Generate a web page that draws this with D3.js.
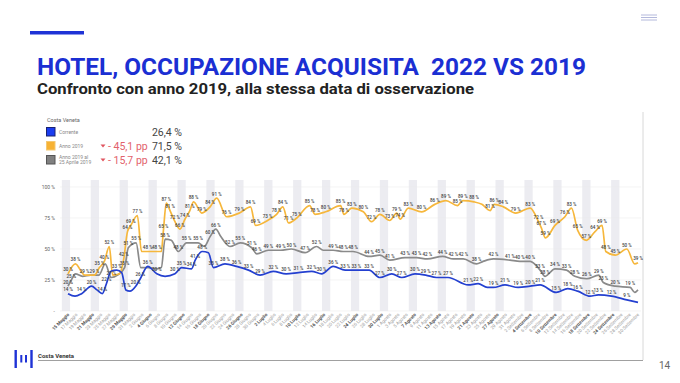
<!DOCTYPE html>
<html><head><meta charset="utf-8">
<script src="https://cdn.jsdelivr.net/npm/d3@7/dist/d3.min.js"></script>
<style>body{margin:0;background:#fff}svg{display:block}</style>
</head><body>
<svg id="c" width="680" height="383"></svg>
<script>
// ---------- DATA ----------
// day offset from 15 May 2022, value %, show label (1/0)
const corrente = [[0,14,1],[1.7,12,0],[3.3,14,1],[5.7,20,1],[7,17,0],[8.3,14,1],[9.3,22,1],[10.4,32,0],[11.8,33,1],[13,31,0],[14,17,1],[15,16,0],[16.4,20,1],[17.5,26,1],[19.3,36,1],[21.5,30,1],[23.5,28,0],[25.9,30,1],[27.5,35,1],[29.9,34,1],[30.8,41,1],[32.5,48,1],[34,47,0],[35.2,35,1],[38,38,1],[40.8,36,1],[43.7,33,1],[46.5,29,1],[49.7,32,1],[52.8,30,1],[55.8,31,1],[59,32,1],[61.4,30,1],[64.2,36,1],[67.1,33,1],[69.8,33,1],[72.9,33,1],[75.5,27,1],[78.4,30,1],[80.8,27,1],[84,30,1],[86.6,29,1],[89.2,27,1],[92,27,1],[96.9,21,1],[99.3,22,1],[101.5,19,0],[103,19,1],[105.8,21,1],[109,19,1],[111.9,20,1],[114.3,21,1],[118.2,15,1],[121,18,1],[123.4,16,1],[126.4,12,1],[128.4,13,1],[131.6,12,1],[135.3,9,1],[138,7,0]];
const anno2019 = [[0,30,1],[1.8,38,1],[4,29,1],[6.4,29,1],[7.6,35,1],[8.8,40,1],[10,52,1],[10.8,29,0],[12.5,30,0],[13.5,42,1],[14.4,64,1],[15.2,69,1],[16.8,77,1],[17.8,48,0],[19.3,48,1],[21.5,48,1],[22.6,48,0],[23.1,65,1],[23.8,87,1],[24.7,81,1],[25.9,72,1],[27.1,66,1],[28.3,74,1],[29.5,81,1],[30.4,88,1],[32.4,79,1],[34.4,84,1],[36,91,1],[38.4,76,1],[41.5,79,1],[44.2,84,1],[45.4,69,1],[48.3,73,1],[50.5,78,1],[52,84,1],[53.4,71,1],[55.4,75,1],[58.5,85,1],[59.8,78,1],[62.4,80,1],[66,85,1],[66.8,78,1],[68.7,83,1],[71.5,80,1],[73.5,72,1],[75.5,78,1],[77.9,73,1],[79.6,79,1],[80.4,74,1],[82.4,83,1],[85.6,80,1],[88.8,86,1],[91.5,89,1],[94.3,85,1],[95.6,89,1],[98.3,88,1],[100.2,86,0],[102.2,81,1],[103.2,86,1],[105.4,84,1],[108.4,79,1],[111.9,83,1],[113.9,72,1],[114.6,67,1],[115.6,59,1],[117.9,69,1],[120.3,76,1],[121.9,83,1],[123.4,65,1],[125.5,57,1],[127.6,64,1],[129.3,69,1],[130.2,48,1],[132.5,45,1],[135.3,50,1],[137.2,38,0],[138,39,1]];
const anno2019Apr = [[0,20,1],[0.8,25,1],[1.8,30,0],[3.5,28,0],[5.5,29,0],[7.5,29,0],[9,38,0],[10.5,27,1],[12,29,0],[13.7,35,1],[14.6,51,1],[16.5,55,1],[17.6,35,0],[19.5,35,0],[21.5,34,0],[22.6,35,0],[23.5,58,1],[25,57,0],[26.7,48,1],[28.7,55,1],[31.5,55,1],[33,52,0],[34.4,60,1],[35.8,66,1],[37,60,0],[39.2,52,1],[41.7,55,1],[44.5,51,1],[45.7,46,1],[48.5,49,1],[51.5,49,1],[54.1,50,1],[57.4,47,1],[60.2,52,1],[61.8,49,0],[64.2,49,1],[66.6,48,1],[69,48,1],[72.9,44,1],[75.5,45,1],[77.9,41,1],[81.6,43,1],[84.4,43,1],[87,42,1],[90.7,44,1],[93.3,42,1],[95.7,42,1],[98.9,38,1],[100.5,40,0],[103,42,1],[107,41,1],[109.4,40,1],[111.9,40,1],[114.3,33,1],[115.5,28,1],[117.9,34,1],[120.7,33,1],[122.7,28,1],[125.6,26,1],[128.5,29,1],[129.6,23,1],[132.5,20,1],[136.1,19,1],[137.2,15,0],[138,17,0]];

const tickLabels = ["15 Maggio","17 Maggio","19 Maggio","21 Maggio","23 Maggio","25 Maggio","27 Maggio","29 Maggio","31 Maggio",
"2 Giugno","4 Giugno","6 Giugno","8 Giugno","10 Giugno","12 Giugno","14 Giugno","16 Giugno","18 Giugno","20 Giugno","22 Giugno","24 Giugno","26 Giugno","28 Giugno","30 Giugno",
"2 Luglio","4 Luglio","6 Luglio","8 Luglio","10 Luglio","12 Luglio","14 Luglio","16 Luglio","18 Luglio","20 Luglio","22 Luglio","24 Luglio","26 Luglio","28 Luglio","30 Luglio",
"1 Agosto","3 Agosto","5 Agosto","7 Agosto","9 Agosto","11 Agosto","13 Agosto","15 Agosto","17 Agosto","19 Agosto","21 Agosto","23 Agosto","25 Agosto","27 Agosto","29 Agosto","31 Agosto",
"2 Settembre","4 Settembre","6 Settembre","8 Settembre","10 Settembre","12 Settembre","14 Settembre","16 Settembre","18 Settembre","20 Settembre","22 Settembre","24 Settembre","26 Settembre","28 Settembre","30 Settembre"];
const yTicks = [0,25,50,75,100];
const yTickLabels = ["-","25 %","50 %","75 %","100 %"];

const legendNames = ["Corrente","Anno 2019","Anno 2019 al|25 Aprile 2019"];
const legendValues = ["26,4 %","71,5 %","42,1 %"];
const legendDeltas = ["","- 45,1 pp","- 15,7 pp"];

// ---------- DRAW ----------
const svg = d3.select("#c");
const F = "Roboto, 'Liberation Sans', Arial, sans-serif";
const startDate = new Date(2022,4,15);
const nDays = 138;
const x = d3.scaleLinear().domain([0,nDays]).range([68,638]);
const y = d3.scaleLinear().domain([0,100]).range([311,187]);

// header
svg.append("rect").attr("x",30).attr("y",31).attr("width",54).attr("height",3.5).attr("fill","#1f33d6");
[15,17.5,20].forEach(yy=>svg.append("line").attr("x1",641).attr("x2",657).attr("y1",yy).attr("y2",yy).attr("stroke","#b4b9dc").attr("stroke-width",1));
svg.append("text").attr("x",37).attr("y",75).attr("font-family",F).attr("font-weight",700).attr("font-size",23.5)
  .attr("fill","#1b2fd3").attr("textLength",549).attr("lengthAdjust","spacingAndGlyphs").style("white-space","pre")
  .text("HOTEL, OCCUPAZIONE ACQUISITA\u00a0 2022 VS 2019");
svg.append("text").attr("x",37).attr("y",94).attr("font-family",F).attr("font-weight",700).attr("font-size",15.5)
  .attr("fill","#222").attr("textLength",437).attr("lengthAdjust","spacingAndGlyphs")
  .text("Confronto con anno 2019, alla stessa data di osservazione");

// chart frame
svg.append("line").attr("x1",643).attr("x2",643).attr("y1",112).attr("y2",360).attr("stroke","#d8d8d8").attr("stroke-width",1);

// footer
svg.append("line").attr("x1",38).attr("x2",643).attr("y1",360.5).attr("y2",360.5).attr("stroke","#a0a0a0").attr("stroke-width",1.2);
svg.append("text").attr("x",38).attr("y",358).attr("font-family",F).attr("font-weight",700).attr("font-size",6).attr("fill","#333").text("Costa Veneta");
const logo = svg.append("g").attr("fill","#1f33d6");
[[14.5,350,2.4,18],[20.3,355,2,7.5],[25,355,2,7.5],[30.3,350,2.4,18]].forEach(r=>logo.append("rect").attr("x",r[0]).attr("y",r[1]).attr("width",r[2]).attr("height",r[3]));
svg.append("text").attr("x",659).attr("y",369).attr("font-family",F).attr("font-size",10).attr("fill","#666").text("14");

// weekend bands
const dayDate = d => new Date(startDate.getFullYear(), startDate.getMonth(), startDate.getDate()+d);
const bands = svg.append("g");
for(let d=-1; d<=nDays; d++){
  if(dayDate(d).getDay()===6){
    const a = Math.max(d-0.5,-1.5), b = Math.min(d+1.5, nDays+0.5);
    bands.append("rect").attr("x",x(a)).attr("y",180).attr("width",x(b)-x(a)).attr("height",311-180).attr("fill","#ececf1");
  }
}
// gridlines
svg.append("g").selectAll("line").data(yTicks).join("line")
  .attr("x1",60).attr("x2",641).attr("y1",d=>y(d)).attr("y2",d=>y(d)).attr("stroke","#ececec").attr("stroke-width",0.6);
// y labels
svg.append("g").selectAll("text").data(yTicks).join("text")
  .attr("x",55).attr("y",d=>y(d)+1.7).attr("text-anchor","end").attr("font-family",F).attr("font-size",5).attr("fill","#666")
  .text((d,i)=>yTickLabels[i]);

// x labels
const xl = svg.append("g");
tickLabels.forEach((t,i)=>{
  const d = i*2;
  const wd = dayDate(d).getDay();
  const we = (wd===0||wd===6);
  xl.append("text").attr("transform",`translate(${x(d)+1.5},${315}) rotate(-45)`).attr("text-anchor","end")
    .attr("font-family",F).attr("font-size",4.6).attr("font-weight",we?700:400).attr("fill",we?"#555":"#999").text(t);
});

// lines
const line = d3.line().x(d=>x(d[0])).y(d=>y(d[1])).curve(d3.curveMonotoneX);
const series = [
  {data:anno2019Apr, color:"#8a8a8a"},
  {data:anno2019, color:"#f6b73c"},
  {data:corrente, color:"#2440d0"}
];
series.forEach(s=>{
  svg.append("path").attr("d",line(s.data)).attr("fill","none").attr("stroke",s.color).attr("stroke-width",1.7).attr("stroke-linejoin","round");
});
series.forEach(s=>{
  svg.append("g").selectAll("text").data(s.data.filter(d=>d[2])).join("text")
    .attr("x",d=>x(d[0])).attr("y",d=>y(d[1])-2.5).attr("text-anchor","middle")
    .attr("font-family",F).attr("font-size",4.6).attr("font-weight",500).attr("fill","#444")
    .text(d=>d[1]+" %");
});

// legend
const lg = svg.append("g").attr("font-family",F);
lg.append("text").attr("x",47).attr("y",122).attr("font-size",5.5).attr("fill","#666").text("Costa Veneta");
const sw = [{f:"#1a3df0",s:"#1a2270"},{f:"#f7b233",s:"#f4c873"},{f:"#808080",s:"#555"}];
const rowY = [132,146,160];
legendNames.forEach((n,i)=>{
  lg.append("rect").attr("x",46.5).attr("y",rowY[i]-4.5).attr("width",8.5).attr("height",8.5).attr("fill",sw[i].f).attr("stroke",sw[i].s).attr("stroke-width",1);
  const parts = n.split("|");
  if(parts.length===1){
    lg.append("text").attr("x",59).attr("y",rowY[i]+1.8).attr("font-size",5).attr("fill","#888").text(parts[0]);
  } else {
    lg.append("text").attr("x",59).attr("y",rowY[i]-1.2).attr("font-size",5).attr("fill","#888").text(parts[0]);
    lg.append("text").attr("x",59).attr("y",rowY[i]+4.2).attr("font-size",5).attr("fill","#888").text(parts[1]);
  }
  lg.append("text").attr("x",182).attr("y",rowY[i]+3.5).attr("text-anchor","end").attr("font-size",10.5).attr("fill","#444").text(legendValues[i]);
  if(legendDeltas[i]){
    lg.append("path").attr("d",`M${100.5},${rowY[i]-1.5} L${105.5},${rowY[i]-1.5} L${103},${rowY[i]+1.5} Z`).attr("fill","#e05560");
    lg.append("text").attr("x",108).attr("y",rowY[i]+3.5).attr("font-size",10.5).attr("fill","#e2626b").text(legendDeltas[i]);
  }
});
</script>
</body></html>
